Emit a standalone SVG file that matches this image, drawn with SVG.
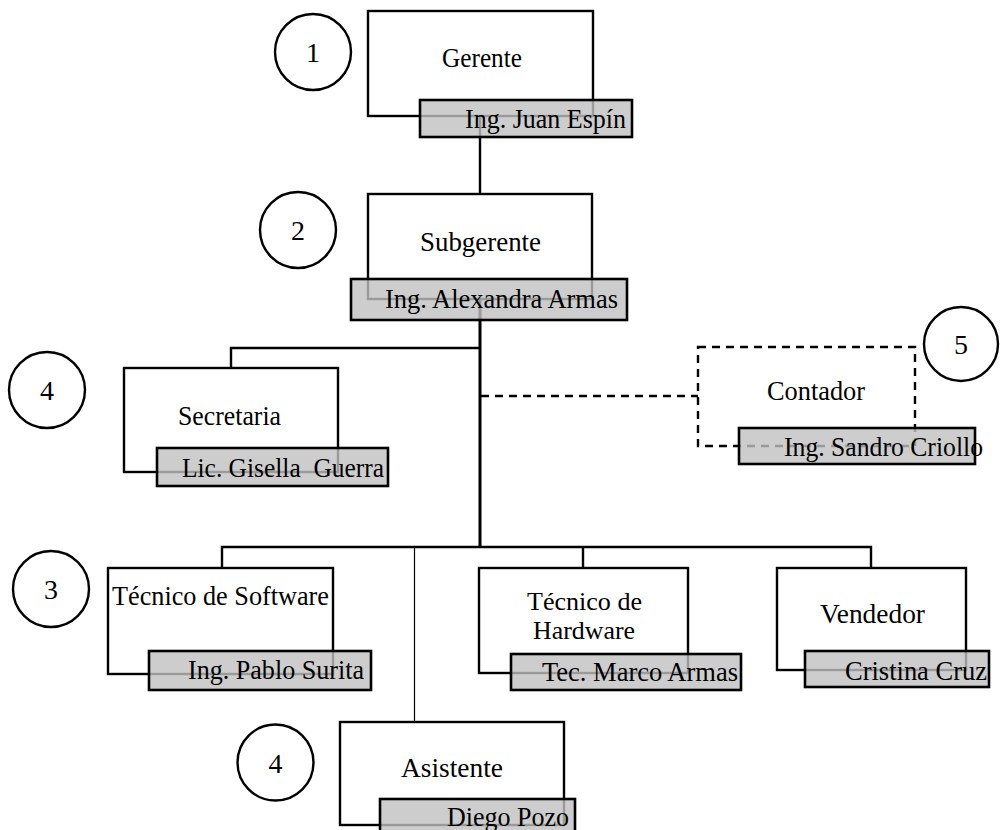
<svg xmlns="http://www.w3.org/2000/svg" width="1008" height="830" viewBox="0 0 1008 830">
<style>
.box{fill:#fff;stroke:#000;stroke-width:2.4}
.dbox{fill:#fff;stroke:#000;stroke-width:2.4;stroke-dasharray:8,6}
.name{fill:#c0c0c0;fill-opacity:0.8;stroke:#000;stroke-width:2.6}
.t{font-family:"Liberation Serif","Times New Roman",serif;font-size:27px;fill:#000}
.t2{font-family:"Liberation Serif","Times New Roman",serif;font-size:25px;fill:#000}
.num{font-family:"Liberation Serif","Times New Roman",serif;font-size:28px;fill:#000;text-anchor:middle}
.circ{fill:#fff;stroke:#000;stroke-width:2.4}
.ln{fill:none;stroke:#000;stroke-width:2.4}
.trunk{fill:none;stroke:#000;stroke-width:3}
.thin{fill:none;stroke:#000;stroke-width:1.2}
.dash{fill:none;stroke:#000;stroke-width:2.4;stroke-dasharray:8,6}
</style>
<rect width="1008" height="830" fill="#fff"/>
<g id="connectors">
<path class="ln" d="M480,60 V194"/>
<path class="trunk" d="M480,250 V547"/>
<path class="ln" d="M480,348 H231 V368"/>
<path class="dash" d="M481,396 H698"/>
<path class="ln" d="M222,620 V547 H871 V568"/>
<path class="ln" d="M583,547 V620"/>
<path class="thin" d="M414.5,547 V780"/>
</g>
<g id="circle1"><circle class="circ" cx="313" cy="52" r="38"/><text class="num" x="313" y="62">1</text></g>
<g id="circle2"><circle class="circ" cx="298" cy="230" r="38"/><text class="num" x="298" y="240">2</text></g>
<g id="circle4a"><circle class="circ" cx="47" cy="390" r="38"/><text class="num" x="47" y="400">4</text></g>
<g id="circle5"><circle class="circ" cx="961" cy="344" r="37"/><text class="num" x="961" y="354">5</text></g>
<g id="circle3"><circle class="circ" cx="51" cy="589" r="38"/><text class="num" x="51" y="599">3</text></g>
<g id="circle4b"><circle class="circ" cx="275.5" cy="762.5" r="38"/><text class="num" x="275.5" y="772.5">4</text></g>
<g id="gerente">
<rect class="box" x="368" y="11" width="225" height="105"/>
<text class="t" x="442" y="67" textLength="80" lengthAdjust="spacingAndGlyphs">Gerente</text>
<rect class="name" x="420" y="100" width="212" height="37"/>
<text class="t" x="465" y="128" textLength="161" lengthAdjust="spacingAndGlyphs">Ing. Juan Espín</text>
</g>
<g id="subgerente">
<rect class="box" x="368" y="194" width="224" height="105"/>
<text class="t" x="420" y="251" textLength="121" lengthAdjust="spacingAndGlyphs">Subgerente</text>
<rect class="name" x="351" y="279" width="276" height="41"/>
<text class="t" x="385" y="308" textLength="233" lengthAdjust="spacingAndGlyphs">Ing. Alexandra Armas</text>
</g>
<g id="secretaria">
<rect class="box" x="124" y="368" width="214" height="104"/>
<text class="t" x="178" y="425" textLength="103" lengthAdjust="spacingAndGlyphs">Secretaria</text>
<rect class="name" x="157" y="448" width="231" height="38"/>
<text class="t" x="182" y="477" textLength="202" lengthAdjust="spacingAndGlyphs" xml:space="preserve">Lic. Gisella  Guerra</text>
</g>
<g id="contador">
<rect class="dbox" x="698" y="347" width="217" height="99"/>
<text class="t" x="767" y="400" textLength="98" lengthAdjust="spacingAndGlyphs">Contador</text>
<rect class="name" x="739" y="428" width="236" height="36"/>
<text class="t" x="784" y="456" textLength="199" lengthAdjust="spacingAndGlyphs">Ing. Sandro Criollo</text>
</g>
<g id="tecnico-software">
<rect class="box" x="108" y="568" width="225" height="106"/>
<text class="t" x="112" y="605" textLength="217" lengthAdjust="spacingAndGlyphs">Técnico de Software</text>
<rect class="name" x="149" y="651" width="222" height="39"/>
<text class="t" x="188" y="679" textLength="176" lengthAdjust="spacingAndGlyphs">Ing. Pablo Surita</text>
</g>
<g id="tecnico-hardware">
<rect class="box" x="479" y="568" width="209" height="105"/>
<text class="t2" x="527" y="610" textLength="115" lengthAdjust="spacingAndGlyphs">Técnico de</text>
<text class="t2" x="533" y="639" textLength="102" lengthAdjust="spacingAndGlyphs">Hardware</text>
<rect class="name" x="511" y="654" width="230" height="36"/>
<text class="t" x="542" y="681" textLength="196" lengthAdjust="spacingAndGlyphs">Tec. Marco Armas</text>
</g>
<g id="vendedor">
<rect class="box" x="777" y="568" width="189" height="102"/>
<text class="t" x="820" y="623" textLength="105" lengthAdjust="spacingAndGlyphs">Vendedor</text>
<rect class="name" x="805" y="651" width="184" height="36"/>
<text class="t" x="845" y="680" textLength="142" lengthAdjust="spacingAndGlyphs">Cristina Cruz</text>
</g>
<g id="asistente">
<rect class="box" x="340" y="722" width="224" height="103"/>
<text class="t" x="401" y="777" textLength="102" lengthAdjust="spacingAndGlyphs">Asistente</text>
<rect class="name" x="380" y="799" width="195" height="37"/>
<text class="t" x="447" y="826" textLength="122" lengthAdjust="spacingAndGlyphs">Diego Pozo</text>
</g>
</svg>
